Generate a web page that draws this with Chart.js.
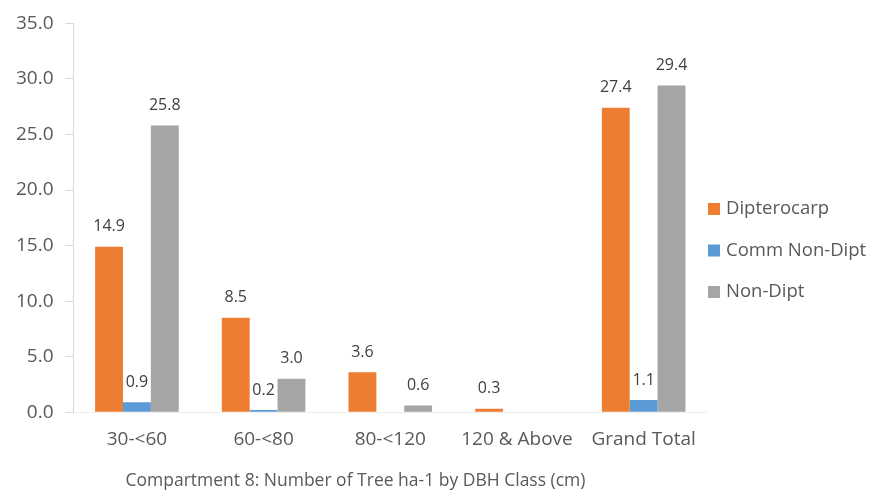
<!DOCTYPE html>
<html>
<head>
<meta charset="utf-8">
<script src="https://cdn.jsdelivr.net/npm/chart.js@4"></script>
<style>
  html, body { margin: 0; padding: 0; background: #fff; }
  #wrap { width: 872px; height: 496px; }
</style>
</head>
<body>
<div id="wrap"><canvas id="myChart"></canvas></div>
<script>
const categories = ['30-<60', '60-<80', '80-<120', '120 & Above', 'Grand Total'];
const seriesNames = ['Dipterocarp', 'Comm Non-Dipt', 'Non-Dipt'];
const dipterocarp = [14.9, 8.5, 3.6, 0.3, 27.4];
const commNonDipt = [0.9, 0.2, null, null, 1.1];
const nonDipt = [25.8, 3.0, 0.6, null, 29.4];
const seriesColors = ['#ED7D31', '#5B9BD5', '#A5A5A5'];
const yTicks = [0, 5, 10, 15, 20, 25, 30, 35];

const FONT = "'Open Sans', 'Noto Sans', sans-serif";

// value labels above each bar
const valueLabels = {
  id: 'valueLabels',
  afterDatasetsDraw(chart) {
    const ctx = chart.ctx;
    ctx.save();
    ctx.font = '16px ' + FONT;
    ctx.fillStyle = '#404040';
    ctx.textAlign = 'center';
    ctx.textBaseline = 'bottom';
    chart.data.datasets.forEach((ds, i) => {
      chart.getDatasetMeta(i).data.forEach((bar, j) => {
        const v = ds.data[j];
        if (v === null || v === undefined) return;
        ctx.fillText(v.toFixed(1), bar.x, bar.y - 12);
      });
    });
    ctx.restore();
  }
};

// legend on the right, next to the plot
const sideLegend = {
  id: 'sideLegend',
  afterDraw(chart) {
    const ctx = chart.ctx;
    const x = chart.chartArea.right + 1;
    const yStart = 209;
    const step = 41.5;
    ctx.save();
    ctx.font = '18.5px ' + FONT;
    ctx.textBaseline = 'middle';
    ctx.textAlign = 'left';
    chart.data.datasets.forEach((ds, i) => {
      const y = yStart + i * step;
      ctx.fillStyle = ds.backgroundColor;
      ctx.fillRect(x, y - 6, 12, 12);
      ctx.fillStyle = '#595959';
      ctx.fillText(ds.label, x + 18, y);
    });
    ctx.restore();
  }
};

new Chart(document.getElementById('myChart'), {
  type: 'bar',
  data: {
    labels: categories,
    datasets: [
      { label: seriesNames[0], data: dipterocarp, backgroundColor: seriesColors[0] },
      { label: seriesNames[1], data: commNonDipt, backgroundColor: seriesColors[1] },
      { label: seriesNames[2], data: nonDipt, backgroundColor: seriesColors[2] }
    ]
  },
  options: {
    responsive: true,
    maintainAspectRatio: false,
    animation: false,
    layout: { autoPadding: false, padding: { left: 4, right: 165, top: 12, bottom: 0 } },
    datasets: { bar: { categoryPercentage: 0.66, barPercentage: 1.0 } },
    scales: {
      x: {
        grid: { display: false },
        border: { display: true, color: '#eeeeee' },
        ticks: { color: '#595959', font: { family: FONT, size: 19 }, padding: 8 }
      },
      y: {
        min: 0,
        max: 35,
        afterBuildTicks(axis) { axis.ticks = yTicks.map(v => ({ value: v })); },
        grid: { drawOnChartArea: false, drawTicks: true, tickLength: 8, color: '#d9d9d9' },
        border: { display: true, color: '#d9d9d9' },
        ticks: {
          color: '#595959',
          font: { family: FONT, size: 19 },
          padding: 12,
          callback: v => Number(v).toFixed(1)
        }
      }
    },
    plugins: {
      legend: { display: false },
      tooltip: { enabled: false },
      title: {
        display: true,
        position: 'bottom',
        text: 'Compartment 8: Number of Tree ha-1 by DBH Class (cm)',
        color: '#595959',
        font: { family: FONT, size: 17.5, weight: 'normal' },
        padding: { top: 12, bottom: 4 }
      }
    }
  },
  plugins: [valueLabels, sideLegend]
});
</script>
</body>
</html>
